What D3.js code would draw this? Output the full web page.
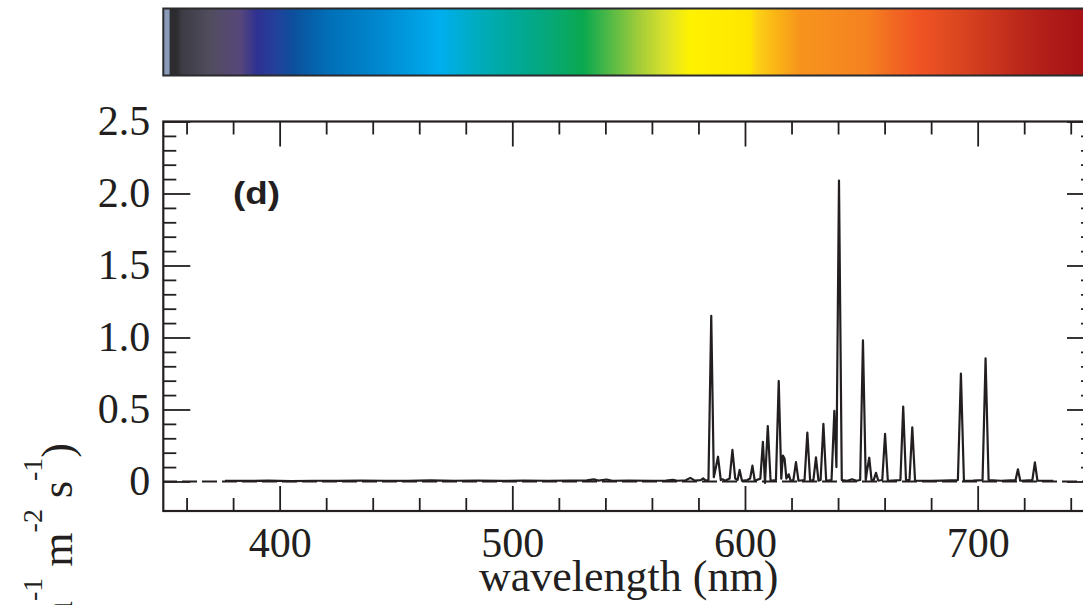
<!DOCTYPE html>
<html>
<head>
<meta charset="utf-8">
<script src="https://cdn.jsdelivr.net/npm/d3@7"></script>
<style>
  html, body { margin: 0; padding: 0; background: #ffffff; overflow: hidden; }
  svg { display: block; }
</style>
</head>
<body>
<svg id="chart" width="1083" height="605"></svg>
<script>
// ---------------- data ----------------
const wavelengths = [
  376.5, 385, 395, 405, 415, 425, 435, 445, 455, 465, 475, 485, 495, 505, 515, 525,
  532, 535, 537, 540.5, 543, 550, 560, 566, 569, 571, 574.5, 576.5, 578.5, 581, 582, 583,
  584.3, 585.5, 586.6, 587.4, 588.4, 589.6, 590.5, 591.5, 593.4, 594.6, 595.8, 596.8, 597.7, 598.7,
  601.0, 602.2, 603.2, 604.2, 606.6, 607.7, 608.6, 609.8, 611.0, 613.3, 614.5, 615.6, 616.3, 617.0,
  617.8, 618.8, 619.6, 620.8, 621.9, 623.0, 625.6, 626.8, 628.0, 629.4, 630.5, 631.6, 632.5, 633.7,
  634.9, 637.2, 638.4, 639.3, 640.4, 641.6, 644, 646, 648, 649.5, 650.7, 651.9, 652.5, 653.4,
  654.4, 655.3, 656.3, 657.3, 659.0, 660.2, 661.4, 666.8, 668.0, 669.2, 670.7, 671.9, 673.1,
  680, 685, 691.5, 692.8, 694.1, 698, 702.1, 703.4, 704.7, 710, 716.3, 717.3, 718.3,
  723.5, 724.6, 725.7, 732.5
];
const irradiance = [
  0.005, 0.004, 0.006, 0.003, 0.005, 0.004, 0.006, 0.005, 0.004, 0.007, 0.005, 0.006, 0.004, 0.006, 0.005, 0.006,
  0.008, 0.015, 0.006, 0.014, 0.005, 0.006, 0.005, 0.006, 0.012, 0.005, 0.008, 0.025, 0.006, 0.010, 0.022, 0.008,
  0.010, 1.15, 0.03, 0.09, 0.172, 0.010, 0.015, 0.005, 0.020, 0.219, 0.020, 0.010, 0.080, 0.005,
  0.010, 0.020, 0.110, 0.005, 0.020, 0.276, -0.010, 0.385, 0.005, 0.010, 0.698, 0.020, 0.180, 0.160,
  0.020, 0.050, 0.005, 0.010, 0.135, 0.005, 0.010, 0.340, 0.005, 0.010, 0.168, 0.005, 0.010, 0.400,
  0.005, 0.010, 0.490, 0.100, 2.090, 0.010, 0.005, 0.015, 0.005, 0.010, 0.980, 0.010, 0.080, 0.165,
  0.010, 0.010, 0.060, 0.005, 0.010, 0.330, 0.005, 0.010, 0.520, 0.010, 0.010, 0.376, 0.005,
  0.004, 0.006, 0.010, 0.750, 0.005, 0.006, 0.010, 0.855, 0.010, 0.005, 0.010, 0.085, 0.005,
  0.010, 0.133, 0.005, 0.004
];

const xMajorTicks = [400, 500, 600, 700];
const xMinorTicks = [360, 380, 420, 440, 460, 480, 520, 540, 560, 580, 620, 640, 660, 680, 720, 740];
const yMajorTicks = [0, 0.5, 1.0, 1.5, 2.0, 2.5];
const yMajorLabels = ["0", "0.5", "1.0", "1.5", "2.0", "2.5"];
const yMinorTicks = [0.1, 0.2, 0.3, 0.4, 0.6, 0.7, 0.8, 0.9, 1.1, 1.2, 1.3, 1.4, 1.6, 1.7, 1.8, 1.9, 2.1, 2.2, 2.3, 2.4];

// colour bar stops (wavelength in nm, colour)
const barStopWavelengths = [350, 352.5, 352.9, 355.5, 358, 370, 383, 390.3, 398, 405.7, 421.6, 443, 469, 484, 499, 516, 530.4,
  537.7, 554.9, 566.5, 576.4, 602.1, 605.2, 612, 623.6, 652.4, 662.3, 675.2, 688, 702.3, 716.9, 731, 750];
const barStopColors = ["#8a9bb8", "#8a9bb8", "#2b2b30", "#2b2b30", "#3d3b44", "#514d5e", "#57477a", "#2e3192", "#24409a", "#0d4f9c",
  "#0070b8", "#0088cf", "#00aeef", "#00acc0", "#00a99d", "#06a878", "#0aa84f",
  "#37b34a", "#a5cd39", "#dde32a", "#fff200", "#ffe600", "#fcd116", "#fbb915", "#f7941d", "#f58220", "#f26b22",
  "#ef5323", "#e04a21", "#cf3a1e", "#bd2a1b", "#b01c18", "#a30f14"];

const panelLabel = "(d)";
const xTitle = "wavelength (nm)";

// ---------------- chart ----------------
const ink = "#231f20";
const svg = d3.select("#chart");

const x = d3.scaleLinear().domain([350, 750]).range([163.3, 1094]);
const y = d3.scaleLinear().domain([-0.205, 2.5]).range([511, 121.5]);

const plotLeft = x.range()[0], plotRight = x.range()[1];
const plotTop = y.range()[1], plotBottom = y.range()[0];

// colour bar
const defs = svg.append("defs");
const grad = defs.append("linearGradient").attr("id", "spec")
  .attr("gradientUnits", "userSpaceOnUse")
  .attr("x1", x(350)).attr("x2", x(750)).attr("y1", 0).attr("y2", 0);
barStopWavelengths.forEach((w, i) => {
  grad.append("stop")
    .attr("offset", (x(w) - x(350)) / (x(750) - x(350)))
    .attr("stop-color", barStopColors[i]);
});
svg.append("rect")
  .attr("x", x(350)).attr("y", 8.5)
  .attr("width", x(750) - x(350)).attr("height", 67)
  .attr("fill", "url(#spec)")
  .attr("stroke", "#2b2b2e").attr("stroke-width", 2);

// zero dashed line
svg.append("line")
  .attr("x1", x(350)).attr("x2", x(750))
  .attr("y1", y(0)).attr("y2", y(0))
  .attr("stroke", ink).attr("stroke-width", 2)
  .attr("stroke-dasharray", "15,5").attr("stroke-dashoffset", 1.3);

// spectrum
const pts = wavelengths.map((w, i) => [w, irradiance[i]]);
svg.append("path")
  .datum(pts)
  .attr("fill", "none")
  .attr("stroke", ink)
  .attr("stroke-width", 2.2)
  .attr("stroke-linejoin", "round")
  .attr("d", d3.line().x(d => x(d[0])).y(d => y(d[1])));

// axes helper
function styleAxis(g) {
  g.select(".domain").remove();
  g.selectAll(".tick line").attr("stroke", ink).attr("stroke-width", 1.8);
  g.selectAll("text")
    .attr("fill", ink)
    .style("font-family", "'Liberation Serif', 'Times New Roman', serif")
    .style("font-size", "42px");
}

// bottom axis
svg.append("g").attr("transform", `translate(0,${plotBottom})`)
  .call(d3.axisBottom(x).tickValues(xMajorTicks).tickSize(-25).tickPadding(16).tickFormat(d3.format("d")))
  .call(styleAxis);
svg.append("g").attr("transform", `translate(0,${plotBottom})`)
  .call(d3.axisBottom(x).tickValues(xMinorTicks).tickSize(-13).tickFormat(""))
  .call(styleAxis);
// top axis
svg.append("g").attr("transform", `translate(0,${plotTop})`)
  .call(d3.axisTop(x).tickValues(xMajorTicks).tickSize(-25).tickFormat(""))
  .call(styleAxis);
svg.append("g").attr("transform", `translate(0,${plotTop})`)
  .call(d3.axisTop(x).tickValues(xMinorTicks).tickSize(-13).tickFormat(""))
  .call(styleAxis);
// left axis
svg.append("g").attr("transform", `translate(${plotLeft},0)`)
  .call(d3.axisLeft(y).tickValues(yMajorTicks).tickSize(-27).tickPadding(13)
    .tickFormat((d, i) => yMajorLabels[i]))
  .call(styleAxis);
svg.append("g").attr("transform", `translate(${plotLeft},0)`)
  .call(d3.axisLeft(y).tickValues(yMinorTicks).tickSize(-13).tickFormat(""))
  .call(styleAxis);
// right axis
svg.append("g").attr("transform", `translate(${plotRight},0)`)
  .call(d3.axisRight(y).tickValues(yMajorTicks).tickSize(-27).tickFormat(""))
  .call(styleAxis);
svg.append("g").attr("transform", `translate(${plotRight},0)`)
  .call(d3.axisRight(y).tickValues(yMinorTicks).tickSize(-13).tickFormat(""))
  .call(styleAxis);

// frame
svg.append("rect")
  .attr("x", plotLeft).attr("y", plotTop)
  .attr("width", plotRight - plotLeft).attr("height", plotBottom - plotTop)
  .attr("fill", "none").attr("stroke", ink).attr("stroke-width", 2.2);

// panel label
svg.append("text")
  .attr("x", 233).attr("y", 204)
  .attr("fill", ink)
  .attr("textLength", 47)
  .attr("lengthAdjust", "spacingAndGlyphs")
  .style("font-family", "'Liberation Sans', Arial, sans-serif")
  .style("font-weight", "bold")
  .style("font-size", "31px")
  .text(panelLabel);

// x title
svg.append("text")
  .attr("x", (plotLeft + plotRight) / 2).attr("y", 591)
  .attr("text-anchor", "middle")
  .attr("fill", ink)
  .style("font-family", "'Liberation Serif', 'Times New Roman', serif")
  .style("font-size", "44px")
  .text(xTitle);

// y title (rotated, mostly cut off at the bottom)
const yt = svg.append("text")
  .attr("transform", "translate(72,443) rotate(-90)")
  .attr("text-anchor", "end")
  .attr("fill", ink)
  .style("font-family", "'Liberation Serif', 'Times New Roman', serif")
  .style("font-size", "44px");
const yParts = [["irradiance (\u03bcmol nm", false], ["-1", true], [" m", false], ["-2", true], [" s", false], ["-1", true], [")", false]];
let raised = false;
yParts.forEach(([t, sup]) => {
  const ts = yt.append("tspan").text(t);
  if (sup && !raised) { ts.attr("dy", -30).style("font-size", "28px"); raised = true; }
  else if (sup) { ts.style("font-size", "28px"); }
  else if (!sup && raised) { ts.attr("dy", 30); raised = false; }
});
</script>
</body>
</html>
